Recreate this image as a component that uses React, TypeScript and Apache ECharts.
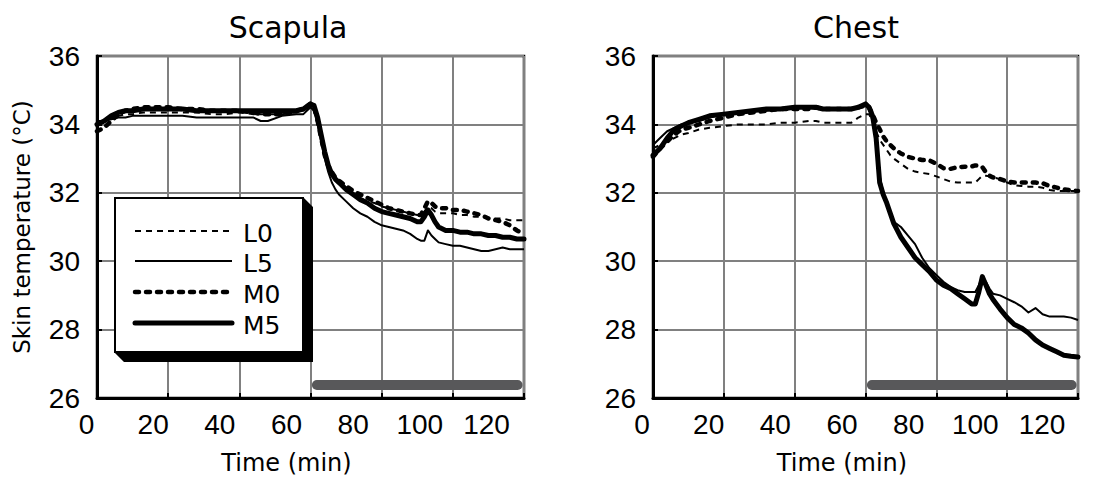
import React, { useEffect, useRef } from "react";
import * as echarts from "echarts";

// ---- data ----
const timeMin = [
  0, 2, 4, 6, 8, 10,
  13, 16, 20, 24, 28, 32, 36, 40, 44, 46, 48, 52, 56, 58,
  60, 61, 62, 63, 64, 65, 66, 67, 68,
  70, 72, 74, 76, 78, 80, 82, 84, 86, 88, 90,
  91, 92, 93, 94, 95, 96,
  98, 100, 102, 104, 106, 108, 110, 112, 114, 116, 118, 120,
];

const scapulaL0 = [
  34.0, 34.1, 34.2, 34.25, 34.3, 34.3,
  34.35, 34.35, 34.35, 34.35, 34.35, 34.3, 34.3, 34.35, 34.3, 34.3, 34.3, 34.3, 34.35, 34.4,
  34.55, 34.5, 34.2, 33.7, 33.2, 32.8, 32.5, 32.35, 32.25,
  32.1, 31.95, 31.85, 31.75, 31.7, 31.6, 31.55, 31.5, 31.45, 31.4, 31.35,
  31.35, 31.45, 31.6, 31.55, 31.45, 31.4,
  31.4, 31.4, 31.35, 31.35, 31.3, 31.3, 31.25, 31.25, 31.25, 31.2, 31.2, 31.2,
];
const scapulaL5 = [
  34.1, 34.1, 34.15, 34.2, 34.2, 34.25,
  34.25, 34.25, 34.25, 34.25, 34.2, 34.2, 34.2, 34.2, 34.2, 34.1, 34.1, 34.25, 34.3, 34.3,
  34.5, 34.4, 34.0, 33.5, 33.0, 32.6, 32.3, 32.1, 31.95,
  31.75, 31.55, 31.4, 31.3, 31.15, 31.05, 31.0, 30.95, 30.9, 30.8, 30.65,
  30.6, 30.6, 30.9, 30.75, 30.65, 30.55,
  30.5, 30.45, 30.45, 30.4, 30.35, 30.3, 30.3, 30.35, 30.4, 30.35, 30.35, 30.35,
];
const scapulaM0 = [
  33.8, 33.9, 34.1, 34.3, 34.4, 34.45,
  34.5, 34.5, 34.5, 34.45, 34.45, 34.4, 34.4, 34.4, 34.35, 34.3, 34.3, 34.3, 34.4, 34.45,
  34.6, 34.5, 34.1, 33.6, 33.1, 32.8, 32.6, 32.45, 32.35,
  32.2, 32.05, 31.95, 31.85, 31.75, 31.65, 31.55, 31.5, 31.45, 31.4, 31.35,
  31.35, 31.55, 31.75, 31.7, 31.6, 31.55,
  31.55, 31.5, 31.5, 31.45, 31.4, 31.35, 31.25, 31.2, 31.15, 31.05, 30.9, 30.8,
];
const scapulaM5 = [
  34.0, 34.1, 34.25, 34.35, 34.4, 34.4,
  34.45, 34.45, 34.45, 34.45, 34.4, 34.4, 34.4, 34.4, 34.4, 34.4, 34.4, 34.4, 34.4, 34.45,
  34.6, 34.55, 34.2, 33.7, 33.2, 32.8, 32.55, 32.4, 32.3,
  32.1, 31.95, 31.8, 31.7, 31.55, 31.45, 31.4, 31.35, 31.3, 31.25, 31.15,
  31.15, 31.3, 31.5, 31.35, 31.15, 31.0,
  30.9, 30.9, 30.85, 30.85, 30.8, 30.8, 30.75, 30.75, 30.7, 30.7, 30.65, 30.65,
];

const chestL0 = [
  33.3, 33.4, 33.5, 33.6, 33.7, 33.75,
  33.85, 33.9, 33.95, 34.0, 34.0, 34.0, 34.05, 34.05, 34.1, 34.1, 34.05, 34.05, 34.05, 34.2,
  34.3, 34.3, 34.1, 33.8, 33.55, 33.4, 33.25, 33.1, 33.0,
  32.85, 32.7, 32.62, 32.58, 32.55, 32.48, 32.4, 32.33, 32.3, 32.3, 32.3,
  32.3, 32.4, 32.5, 32.5, 32.48, 32.45,
  32.4, 32.3, 32.22, 32.2, 32.18, 32.18, 32.15, 32.08, 32.05, 32.05, 32.05, 32.05,
];
const chestL5 = [
  33.4, 33.6, 33.8, 33.9, 34.0, 34.05,
  34.1, 34.2, 34.3, 34.35, 34.4, 34.4, 34.45, 34.5, 34.5, 34.45, 34.45, 34.45, 34.45, 34.5,
  34.55, 34.45, 34.1, 33.5, 32.5, 32.0, 31.7, 31.4, 31.15,
  31.0, 30.75, 30.5, 30.1, 29.8, 29.6, 29.4, 29.25, 29.15, 29.1, 29.1,
  29.1, 29.3, 29.55, 29.4, 29.2, 29.05,
  29.0, 28.9, 28.8, 28.68, 28.5, 28.63, 28.45, 28.38, 28.38, 28.38, 28.35, 28.28,
];
const chestM0 = [
  33.05, 33.3, 33.5, 33.7, 33.85, 33.9,
  34.0, 34.1, 34.2, 34.3, 34.35, 34.4, 34.45, 34.45, 34.45, 34.5, 34.45, 34.45, 34.45, 34.5,
  34.55, 34.5, 34.3, 34.05, 33.86, 33.65, 33.5, 33.4, 33.3,
  33.15, 33.05, 33.0, 32.96, 32.95, 32.85, 32.72, 32.7, 32.75, 32.76, 32.77,
  32.8, 32.8, 32.75, 32.6, 32.5, 32.45,
  32.4, 32.33, 32.3, 32.3, 32.3, 32.3, 32.28, 32.2, 32.15, 32.1, 32.07, 32.05,
];
const chestM5 = [
  33.1, 33.3, 33.6, 33.85, 33.95, 34.05,
  34.15, 34.25, 34.3, 34.35, 34.4, 34.45, 34.45, 34.5, 34.5, 34.5, 34.45, 34.45, 34.45, 34.5,
  34.6, 34.5, 34.25, 33.6, 32.3, 31.95, 31.7, 31.4, 31.1,
  30.7, 30.4, 30.1, 29.9, 29.7, 29.45, 29.3, 29.2, 29.05, 28.9, 28.75,
  28.75, 29.1, 29.55, 29.3, 29.05, 28.88,
  28.6, 28.35, 28.15, 28.05, 27.9, 27.7, 27.55, 27.45, 27.35, 27.25, 27.22, 27.2,
];

const seriesNames = ["L0", "L5", "M0", "M5"];
const panelTitles = ["Scapula", "Chest"];
const exposureStart = 61.8;
const exposureEnd = 118.2;
const exposureLevel = 26.38;
const xMin = 0, xMax = 120, xStep = 20;
const yMin = 26, yMax = 36, yStep = 2;

// ---- styles ----
const DIGIT_FONT = "Liberation Sans";
const TEXT_FONT = "DejaVu Sans";
const lineStyles: Record<string, any> = {
  L0: { color: "#000", width: 2, type: [6, 5], cap: "butt" },
  L5: { color: "#000", width: 2, type: "solid", cap: "butt" },
  M0: { color: "#000", width: 4.5, type: [4, 7], cap: "round" },
  M5: { color: "#000", width: 5, type: "solid", cap: "round" },
};

const pair = (vals: number[]) => timeMin.map((t, i) => [t, vals[i]]);

export default function App() {
  const ref = useRef<HTMLDivElement>(null);
  useEffect(() => {
    if (!ref.current) return;
    const chart = echarts.init(ref.current, null, { renderer: "svg", width: 1095, height: 480 });

    const panels = [
      { data: [scapulaL0, scapulaL5, scapulaM0, scapulaM5] },
      { data: [chestL0, chestL5, chestM0, chestM5] },
    ];

    const grid = [
      { left: 97, top: 56, width: 427, height: 342, show: true, borderColor: "#000", borderWidth: 2.5, backgroundColor: "transparent" },
      { left: 653, top: 56, width: 425, height: 342, show: true, borderColor: "#000", borderWidth: 2.5, backgroundColor: "transparent" },
      { left: 86.5, top: 56, width: 400, height: 342, show: false },
      { left: 642, top: 56, width: 400, height: 342, show: false },
    ];

    const mainX = (gi: number) => ({
      type: "value", gridIndex: gi, min: xMin, max: xMax, interval: xStep,
      axisLine: { show: true, lineStyle: { color: "#000", width: 3 } },
      axisTick: { show: true, inside: true, length: 5, lineStyle: { color: "#000", width: 2 } },
      axisLabel: { show: false },
      splitLine: { show: true, lineStyle: { color: "#808080", width: 2 } },
    });
    const labelX = (gi: number) => ({
      type: "value", gridIndex: gi, min: xMin, max: xMax, interval: xStep,
      axisLine: { show: false }, axisTick: { show: false }, splitLine: { show: false },
      axisLabel: { show: true, color: "#000", fontSize: 28, fontFamily: DIGIT_FONT, margin: 21 },
      name: "Time (min)", nameLocation: "middle", nameGap: 62,
      nameTextStyle: { color: "#000", fontSize: 24, fontFamily: TEXT_FONT },
    });
    const mainY = (gi: number, withName: boolean) => ({
      type: "value", gridIndex: gi, min: yMin, max: yMax, interval: yStep,
      axisLine: { show: true, lineStyle: { color: "#000", width: 3 } },
      axisTick: { show: true, inside: true, length: 5, lineStyle: { color: "#000", width: 2 } },
      axisLabel: { show: true, color: "#000", fontSize: 28, fontFamily: DIGIT_FONT, margin: 17 },
      splitLine: { show: true, lineStyle: { color: "#808080", width: 2 } },
      ...(withName
        ? {
            name: "Skin temperature (°C)", nameLocation: "middle", nameGap: 64, nameRotate: 90,
            nameTextStyle: { color: "#000", fontSize: 23, fontFamily: TEXT_FONT },
          }
        : {}),
    });

    const series: any[] = [];
    panels.forEach((p, pi) => {
      series.push({
        type: "line", xAxisIndex: pi, yAxisIndex: pi, silent: true, symbol: "none",
        data: [[exposureStart, exposureLevel], [exposureEnd, exposureLevel]],
        lineStyle: { color: "#58585a", width: 10, cap: "round" }, z: 2,
      });
      seriesNames.forEach((name, si) => {
        series.push({
          name, type: "line", xAxisIndex: pi, yAxisIndex: pi, silent: true,
          symbol: "none", showSymbol: false, data: pair(p.data[si]),
          lineStyle: { ...lineStyles[name], join: "round" }, z: 3 + si,
        });
      });
    });

    const legendRows = [231, 261, 292, 323];
    const graphic: any[] = [
      { type: "text", x: 288, y: 27, z: 10, style: { text: panelTitles[0], fill: "#000", font: `30px "${TEXT_FONT}"`, textAlign: "center", textVerticalAlign: "middle" } },
      { type: "text", x: 856, y: 27, z: 10, style: { text: panelTitles[1], fill: "#000", font: `30px "${TEXT_FONT}"`, textAlign: "center", textVerticalAlign: "middle" } },
      { type: "polygon", z: 20, shape: { points: [[303, 197], [313, 207], [313, 362], [124, 362], [114, 352], [303, 352]] }, style: { fill: "#000" } },
      { type: "rect", z: 21, shape: { x: 115, y: 198, width: 188, height: 154 }, style: { fill: "#fff", stroke: "#000", lineWidth: 2 } },
    ];
    seriesNames.forEach((name, i) => {
      const ls = lineStyles[name];
      graphic.push({
        type: "line", z: 22,
        shape: { x1: 135, y1: legendRows[i], x2: 232, y2: legendRows[i] },
        style: { stroke: "#000", lineWidth: ls.width, lineDash: Array.isArray(ls.type) ? ls.type : null, lineCap: ls.cap },
      });
      graphic.push({
        type: "text", z: 22, x: 243, y: legendRows[i] + 2,
        style: { text: name, fill: "#000", font: `25px "${TEXT_FONT}"`, textAlign: "left", textVerticalAlign: "middle" },
      });
    });

    chart.setOption({
      animation: false,
      backgroundColor: "#fff",
      grid,
      xAxis: [mainX(0), mainX(1), labelX(2), labelX(3)],
      yAxis: [mainY(0, true), mainY(1, false), { type: "value", gridIndex: 2, show: false, min: yMin, max: yMax }, { type: "value", gridIndex: 3, show: false, min: yMin, max: yMax }],
      series,
      graphic,
    });
    return () => chart.dispose();
  }, []);

  return <div ref={ref} style={{ position: "fixed", left: 0, top: 0, width: 1095, height: 480 }} />;
}
